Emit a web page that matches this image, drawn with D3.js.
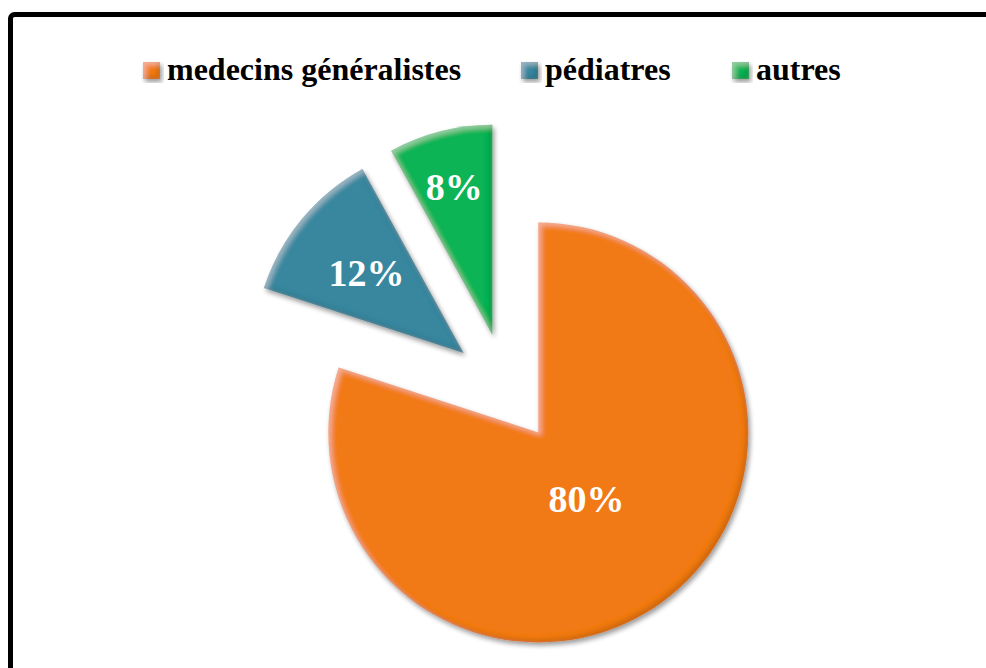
<!DOCTYPE html>
<html>
<head>
<meta charset="utf-8">
<script src="https://cdn.jsdelivr.net/npm/d3@7"></script>
<style>
body { margin:0; background:#fff; }
svg text { font-family:"Liberation Serif","Times New Roman",serif; font-weight:bold; }
</style>
</head>
<body>
<div id="chart"></div>
<script>
var categories = ["medecins généralistes", "pédiatres", "autres"]
var values = [80, 12, 8]
var labels = ["80%", "12%", "8%"]
var colors = ["#F27A12", "#37879F", "#07B455"]
// label distance from the apex, as a fraction of the radius (Excel best fit)
var labelRadius = [0.39, 0.6, 0.73]

var width = 986, height = 668
var svg = d3.select("#chart").append("svg").attr("width",width).attr("height",height)

var defs = svg.append("defs")
var f = defs.append("filter").attr("id","bevel").attr("x","-20%").attr("y","-20%").attr("width","140%").attr("height","140%")
// light inner edge top-left
f.append("feGaussianBlur").attr("in","SourceAlpha").attr("stdDeviation",2.5).attr("result","b")
f.append("feOffset").attr("in","b").attr("dx",3).attr("dy",3).attr("result","bo1")
f.append("feComposite").attr("in","SourceAlpha").attr("in2","bo1").attr("operator","out").attr("result","edge1")
f.append("feFlood").attr("flood-color","#fff").attr("flood-opacity",0.3)
f.append("feComposite").attr("in2","edge1").attr("operator","in").attr("result","hi")
// dark inner edge bottom-right
f.append("feOffset").attr("in","b").attr("dx",-3).attr("dy",-3).attr("result","bo2")
f.append("feComposite").attr("in","SourceAlpha").attr("in2","bo2").attr("operator","out").attr("result","edge2")
f.append("feFlood").attr("flood-color","#000").attr("flood-opacity",0.3)
f.append("feComposite").attr("in2","edge2").attr("operator","in").attr("result","lo")
// drop shadow
f.append("feGaussianBlur").attr("in","SourceAlpha").attr("stdDeviation",2.5).attr("result","sb")
f.append("feOffset").attr("in","sb").attr("dx",2).attr("dy",3).attr("result","so")
f.append("feComponentTransfer").attr("in","so").attr("result","shadow")
	.append("feFuncA").attr("type","linear").attr("slope",0.4)
var m = f.append("feMerge")
m.append("feMergeNode").attr("in","shadow")
m.append("feMergeNode").attr("in","SourceGraphic")
m.append("feMergeNode").attr("in","lo")
m.append("feMergeNode").attr("in","hi")

// frame
svg.append("rect").attr("x",10.5).attr("y",14.5).attr("width",1100).attr("height",800)
	.attr("rx",4).attr("fill","none").attr("stroke","#000").attr("stroke-width",5)

// legend
var legendX = [143, 521, 732]
var lg = svg.append("g").selectAll("g").data(categories).enter().append("g")
	.attr("transform",function(d,i){return "translate("+legendX[i]+",62)"})
lg.append("rect").attr("width",17).attr("height",17).attr("fill",function(d,i){return colors[i]})
	.attr("filter","url(#bevel)")
lg.append("text").attr("x",24).attr("y",18).style("font-size","32px").attr("fill","#000").text(function(d){return d})

// pie
var cx = 506, cy = 388, r = 210, explode = 55
var pie = d3.pie().sort(null).startAngle(0).endAngle(2*Math.PI)
var arcs = pie(values)
var arc = d3.arc().innerRadius(0).outerRadius(r)

var g = svg.append("g").attr("transform","translate("+cx+","+cy+")")
var slice = g.selectAll("g.slice").data(arcs).enter().append("g").attr("class","slice")
	.attr("transform",function(d){
		var a = (d.startAngle+d.endAngle)/2
		return "translate("+(explode*Math.sin(a))+","+(-explode*Math.cos(a))+")"
	})
slice.append("path").attr("d",arc).attr("fill",function(d,i){return colors[i]}).attr("filter","url(#bevel)")
slice.append("text")
	.attr("x",function(d,i){return labelRadius[i]*r*Math.sin((d.startAngle+d.endAngle)/2)})
	.attr("y",function(d,i){return -labelRadius[i]*r*Math.cos((d.startAngle+d.endAngle)/2)})
	.attr("dy","0.35em").attr("text-anchor","middle").attr("fill","#fff")
	.style("font-size","38px").text(function(d,i){return labels[i]})
</script>
</body>
</html>
